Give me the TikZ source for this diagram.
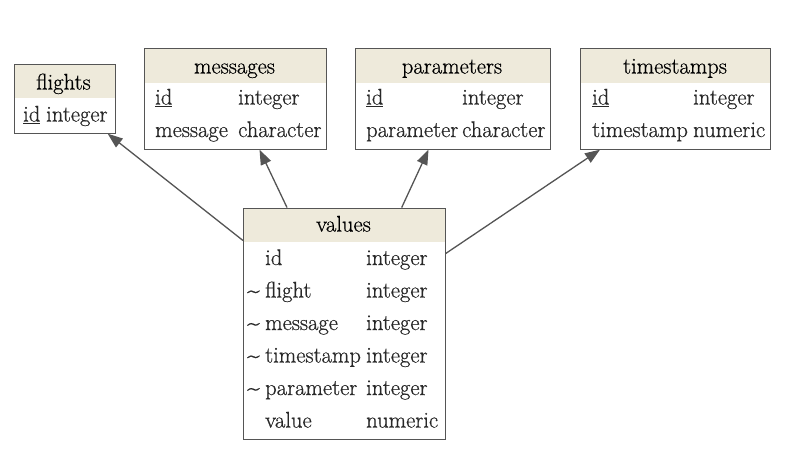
\documentclass[tikz,border=0pt]{standalone}
\usepackage{fontspec}
\newfontfamily\tabserif{Latin Modern Roman}[FakeBold=0.6]
\usetikzlibrary{arrows.meta, calc}

\definecolor{edgegray}{RGB}{85,85,85}
\definecolor{hdrfill}{RGB}{238,234,219}
\definecolor{txtgray}{RGB}{40,40,40}
\newcommand{\tabfont}{\tabserif\fontsize{22.6}{26}\selectfont}

\begin{document}
\begin{tikzpicture}[x=1pt, y=-1pt,
    tbl/.style={rectangle, draw=edgegray, line width=1.2pt, fill=white, inner sep=0pt, anchor=north west,
        path picture={\fill[hdrfill] (path picture bounding box.north west) rectangle ([yshift=-#1]path picture bounding box.north east);}},
    ttl/.style={anchor=base, inner sep=0pt, font=\tabfont, text=black},
    fld/.style={anchor=base west, inner sep=0pt, font=\tabfont, text=txtgray},
    fk/.style={-{Triangle[length=15pt, width=11pt]}, draw=edgegray, fill=edgegray, line width=1.3pt},
]
    \useasboundingbox (0,0) rectangle (786,459);

    % tables
    \node[tbl=34pt, minimum width=101pt, minimum height=69pt] (flights) at (13.5,63.5) {};
    \node[tbl=34.5pt, minimum width=182pt, minimum height=101pt] (messages) at (143.5,47.5) {};
    \node[tbl=34.5pt, minimum width=195pt, minimum height=101pt] (parameters) at (354.5,47.5) {};
    \node[tbl=34.5pt, minimum width=190pt, minimum height=101pt] (timestamps) at (580,47.5) {};
    \node[tbl=33.5pt, minimum width=201.5pt, minimum height=231pt] (values) at (243,207.5) {};

    % flights
    \node[ttl] (flights-t) at (63.5,89.5) {flights};
    \node[fld] (flights-id) at (23,121.5) {\underline{id}};
    \node[fld] (flights-idt) at (46,121.5) {integer};

    % messages
    \node[ttl] (messages-t) at (234.5,73.5) {messages};
    \node[fld] (messages-id) at (155,104.5) {\underline{id}};
    \node[fld] (messages-idt) at (238,104.5) {integer};
    \node[fld] (messages-msg) at (155,137) {message};
    \node[fld] (messages-msgt) at (238,137) {character};

    % parameters
    \node[ttl] (parameters-t) at (452,73.5) {parameters};
    \node[fld] (parameters-id) at (366,104.5) {\underline{id}};
    \node[fld] (parameters-idt) at (462,104.5) {integer};
    \node[fld] (parameters-par) at (366,137) {parameter};
    \node[fld] (parameters-part) at (462,137) {character};

    % timestamps
    \node[ttl] (timestamps-t) at (675,73.5) {timestamps};
    \node[fld] (timestamps-id) at (592,104.5) {\underline{id}};
    \node[fld] (timestamps-idt) at (693,104.5) {integer};
    \node[fld] (timestamps-ts) at (592,137) {timestamp};
    \node[fld] (timestamps-tst) at (693,137) {numeric};

    % values
    \node[ttl] (values-t) at (343.5,231.5) {values};
    \foreach \name/\kind/\mark [count=\i from 0] in {id/integer/, flight/integer/\textasciitilde, message/integer/\textasciitilde,
        timestamp/integer/\textasciitilde, parameter/integer/\textasciitilde, value/numeric/}{
        \node[fld] (values-m\i) at (247,265+32.5*\i) {\mark};
        \node[fld] (values-n\i) at (265,265+32.5*\i) {\name};
        \node[fld] (values-k\i) at (366,265+32.5*\i) {\kind};
    }

    % references
    \draw[fk] ([yshift=-33pt]values.north west) -- ([xshift=-8pt]flights.south east);
    \draw[fk] ([xshift=44pt]values.north west) -- ([xshift=116pt]messages.south west);
    \draw[fk] ([xshift=-44pt]values.north east) -- ([xshift=74pt]parameters.south west);
    \draw[fk] ([yshift=-46pt]values.north east) -- ([xshift=20pt]timestamps.south west);
\end{tikzpicture}
\end{document}
